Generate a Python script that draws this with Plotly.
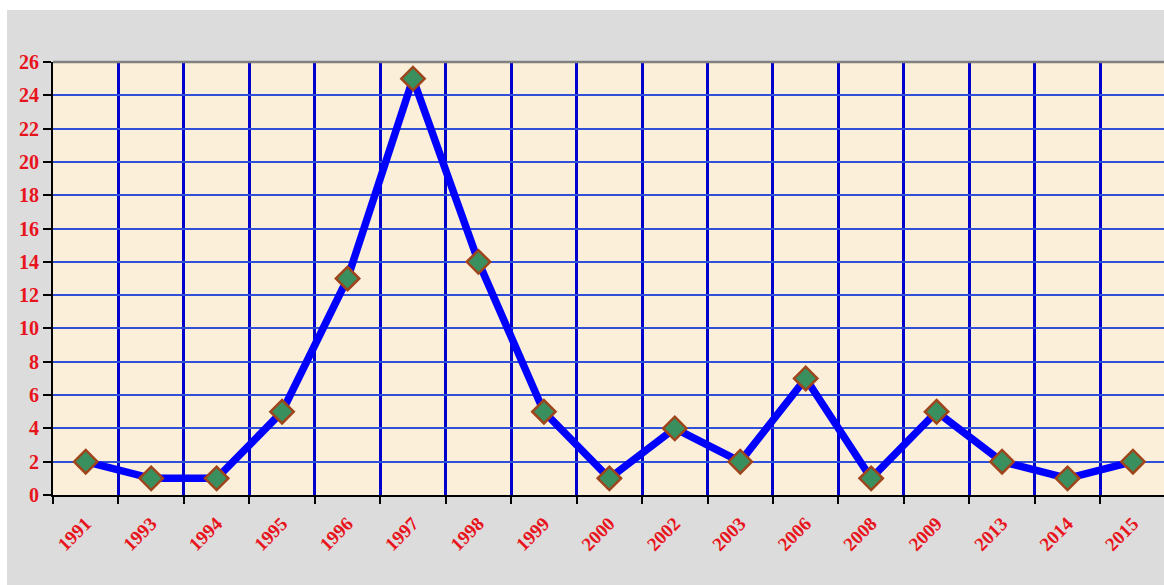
import plotly.graph_objects as go

# Yearly counts
years = ["1991", "1993", "1994", "1995", "1996", "1997", "1998", "1999", "2000",
         "2002", "2003", "2006", "2008", "2009", "2013", "2014", "2015"]
counts = [2, 1, 1, 5, 13, 25, 14, 5, 1, 4, 2, 7, 1, 5, 2, 1, 2]
y_ticks = list(range(0, 27, 2))

RED = "#e8141c"
SERIF = "Liberation Serif, Times New Roman, serif"

fig = go.Figure()
fig.add_trace(go.Scatter(
    x=years, y=counts,
    mode="lines+markers",
    line=dict(color="#0000ff", width=7.5),
    marker=dict(symbol="diamond", size=18, color="#3a8f5e",
                line=dict(color="#a0441c", width=2.5)),
    cliponaxis=False,
    hoverinfo="x+y",
))

W, H = 1164, 585
ml, mt, mb = 53, 62, 90
pw, ph = W - ml, H - mt - mb

def px_x(p):
    return (p - ml) / pw

def px_y(p):
    return (H - mb - p) / ph

shapes = [
    # white margins along top and left edges
    dict(type="rect", xref="paper", yref="paper", x0=px_x(-20), x1=px_x(W + 20),
         y0=px_y(10), y1=px_y(-20), fillcolor="white", line_width=0, layer="below"),
    dict(type="rect", xref="paper", yref="paper", x0=px_x(-20), x1=px_x(7),
         y0=px_y(H + 20), y1=px_y(-20), fillcolor="white", line_width=0, layer="below"),
    # grey frame line on top of the plot area
    dict(type="line", xref="paper", yref="paper", x0=0, x1=1, y0=1, y1=1,
         line=dict(color="#808080", width=2.5)),
]

fig.update_layout(
    width=W, height=H,
    margin=dict(l=ml, r=0, t=mt, b=mb),
    paper_bgcolor="#dcdcdc",
    plot_bgcolor="#fcefd9",
    showlegend=False,
    shapes=shapes,
    xaxis=dict(
        type="category",
        range=[-0.5, 16.474],
        tickson="boundaries",
        showgrid=True, gridcolor="#0000cc", gridwidth=2.5,
        showline=True, linecolor="black", linewidth=2,
        ticks="outside", ticklen=7, tickcolor="black", tickwidth=1.5,
        tickangle=-45,
        ticklabelstandoff=8,
        tickfont=dict(family=SERIF, size=19, color=RED, weight="bold"),
        zeroline=False,
        fixedrange=True,
    ),
    yaxis=dict(
        range=[0, 26],
        tickvals=y_ticks,
        showgrid=True, gridcolor="#2f4fd8", gridwidth=2,
        showline=True, linecolor="black", linewidth=2,
        ticks="outside", ticklen=8, tickcolor="black", tickwidth=1.5,
        tickfont=dict(family=SERIF, size=20, color=RED, weight="bold"),
        zeroline=False,
        fixedrange=True,
    ),
)

fig.write_html("out.html")
